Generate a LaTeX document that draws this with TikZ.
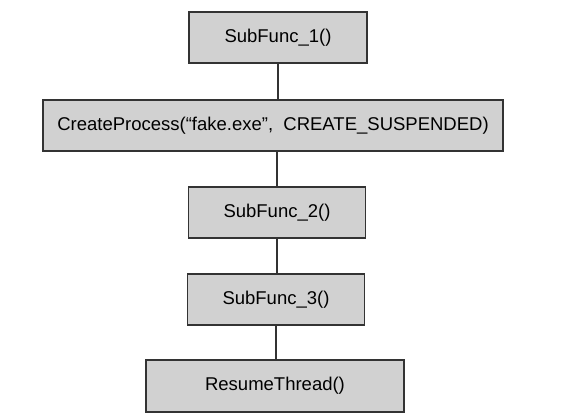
\documentclass[tikz,border=0pt]{standalone}
\usepackage{fontspec}
\setmainfont{Liberation Sans}
\usepackage{tikz}
\usetikzlibrary{positioning}

\begin{document}
\begin{tikzpicture}[x=1pt, y=-1pt, every node/.style={font=\fontsize{18.5}{20}\selectfont}]
	\tikzset{callbox/.style={draw=black!80, line width=1.2pt, fill=black!18, minimum height=51pt, inner sep=0pt},
		link/.style={draw=black!80, line width=1.2pt}}
	
	%//frame of the page
	\useasboundingbox (0,0) rectangle (584,420);
	
	\node [callbox, minimum width=178pt] (sub1) at (278, 37.5) {SubFunc\_1()};
	\node [callbox, minimum width=460pt] (create) at (273, 125.5) {CreateProcess(“fake.exe”,\ \ CREATE\_SUSPENDED)};
	\node [callbox, minimum width=177pt] (sub2) at (277, 212.5) {SubFunc\_2()};
	\node [callbox, minimum width=177pt] (sub3) at (276, 299.5) {SubFunc\_3()};
	\node [callbox, minimum width=258pt, minimum height=52pt] (resume) at (275, 386) {ResumeThread()};
	
	%//links between the calls
	\draw [link] (sub1.south) -- (sub1.south |- create.north);
	\draw [link] (sub2.north |- create.south) -- (sub2.north);
	\draw [link] (sub2.south) -- (sub2.south |- sub3.north);
	\draw [link] (sub3.south) -- (sub3.south |- resume.north);
	
\end{tikzpicture}
\end{document}
